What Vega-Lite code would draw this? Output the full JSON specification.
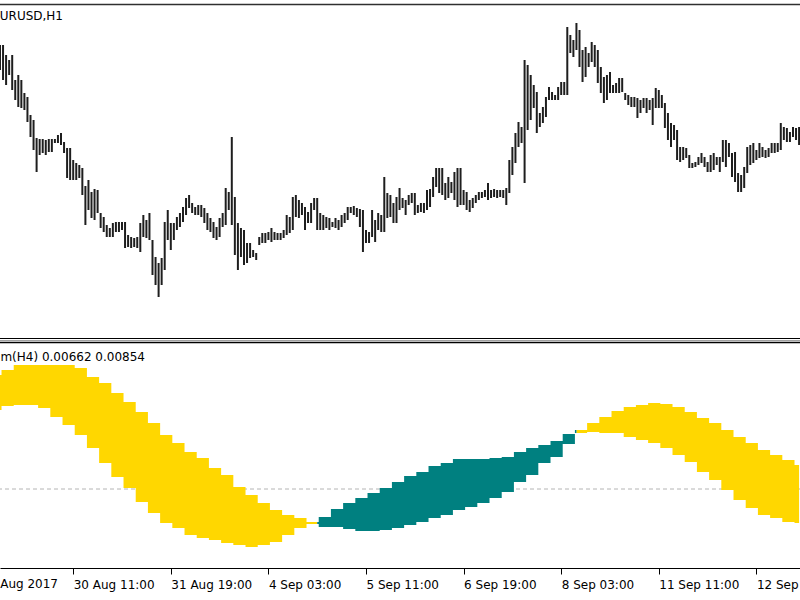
{
"$schema":"https://vega.github.io/schema/vega-lite/v6.json",
"width":800,"height":600,"padding":0,
"autosize":{"type":"none"},
"background":"white",
"config":{"view":{"stroke":null},
 "axisX":{"offset":-32,"title":null,"grid":false,
    "domainColor":"#000000","domainWidth":1,"tickColor":"#000000","tickSize":6,"tickWidth":1,
    "labelAlign":"left","labelBaseline":"alphabetic","labelPadding":14,"labelDx":1.5,
    "labelFont":"DejaVu Sans","labelFontSize":12,"labelColor":"#000000",
    "labelFlush":false,"labelOverlap":false,"labelBound":false}},
"data":{"values":[
{"i":0,"h":1.2072,"l":1.2047,"a":0.0114,"b":0.0079},
{"i":1,"h":1.2072,"l":1.2037,"a":0.0119,"b":0.0083},
{"i":2,"h":1.2062,"l":1.2032,"a":0.0119,"b":0.0083},
{"i":3,"h":1.2057,"l":1.2042,"a":0.0119,"b":0.0083},
{"i":4,"h":1.2062,"l":1.2027,"a":0.0119,"b":0.0083},
{"i":5,"h":1.2037,"l":1.2017,"a":0.0124,"b":0.0084},
{"i":6,"h":1.2042,"l":1.2010,"a":0.0124,"b":0.0084},
{"i":7,"h":1.2037,"l":1.2009,"a":0.0124,"b":0.0084},
{"i":8,"h":1.2024,"l":1.2007,"a":0.0124,"b":0.0084},
{"i":9,"h":1.2020,"l":1.1995,"a":0.0124,"b":0.0084},
{"i":10,"h":1.2002,"l":1.1980,"a":0.0124,"b":0.0084},
{"i":11,"h":1.1997,"l":1.1967,"a":0.0124,"b":0.0084},
{"i":12,"h":1.1979,"l":1.1945,"a":0.0124,"b":0.0084},
{"i":13,"h":1.1978,"l":1.1962,"a":0.0124,"b":0.0081},
{"i":14,"h":1.1978,"l":1.1964,"a":0.0124,"b":0.0081},
{"i":15,"h":1.1977,"l":1.1962,"a":0.0124,"b":0.0081},
{"i":16,"h":1.1978,"l":1.1965,"a":0.0124,"b":0.0081},
{"i":17,"h":1.1978,"l":1.1965,"a":0.0124,"b":0.0072},
{"i":18,"h":1.1978,"l":1.1974,"a":0.0124,"b":0.0072},
{"i":19,"h":1.1982,"l":1.1974,"a":0.0124,"b":0.0072},
{"i":20,"h":1.1984,"l":1.1972,"a":0.0124,"b":0.0072},
{"i":21,"h":1.1975,"l":1.1964,"a":0.0124,"b":0.0064},
{"i":22,"h":1.1969,"l":1.1939,"a":0.0124,"b":0.0064},
{"i":23,"h":1.1969,"l":1.1937,"a":0.0124,"b":0.0064},
{"i":24,"h":1.1957,"l":1.1937,"a":0.0124,"b":0.0064},
{"i":25,"h":1.1954,"l":1.1937,"a":0.0121,"b":0.0054},
{"i":26,"h":1.1952,"l":1.1939,"a":0.0121,"b":0.0054},
{"i":27,"h":1.1949,"l":1.1922,"a":0.0121,"b":0.0054},
{"i":28,"h":1.1931,"l":1.1892,"a":0.0121,"b":0.0054},
{"i":29,"h":1.1937,"l":1.1907,"a":0.0112,"b":0.0041},
{"i":30,"h":1.1925,"l":1.1899,"a":0.0112,"b":0.0041},
{"i":31,"h":1.1928,"l":1.1897,"a":0.0112,"b":0.0041},
{"i":32,"h":1.1927,"l":1.1904,"a":0.0112,"b":0.0041},
{"i":33,"h":1.1904,"l":1.1889,"a":0.0106,"b":0.0026},
{"i":34,"h":1.1900,"l":1.1885,"a":0.0106,"b":0.0026},
{"i":35,"h":1.1892,"l":1.1880,"a":0.0106,"b":0.0026},
{"i":36,"h":1.1889,"l":1.1880,"a":0.0106,"b":0.0026},
{"i":37,"h":1.1894,"l":1.1880,"a":0.0096,"b":0.0012},
{"i":38,"h":1.1895,"l":1.1885,"a":0.0096,"b":0.0012},
{"i":39,"h":1.1895,"l":1.1885,"a":0.0096,"b":0.0012},
{"i":40,"h":1.1895,"l":1.1887,"a":0.0096,"b":0.0012},
{"i":41,"h":1.1895,"l":1.1869,"a":0.0087,"b":0.0001},
{"i":42,"h":1.1882,"l":1.1870,"a":0.0087,"b":0.0001},
{"i":43,"h":1.1880,"l":1.1869,"a":0.0087,"b":0.0001},
{"i":44,"h":1.1879,"l":1.1870,"a":0.0087,"b":0.0001},
{"i":45,"h":1.1880,"l":1.1869,"a":0.0077,"b":-0.0013},
{"i":46,"h":1.1894,"l":1.1865,"a":0.0077,"b":-0.0013},
{"i":47,"h":1.1902,"l":1.1880,"a":0.0077,"b":-0.0013},
{"i":48,"h":1.1897,"l":1.1879,"a":0.0077,"b":-0.0013},
{"i":49,"h":1.1904,"l":1.1877,"a":0.0066,"b":-0.0024},
{"i":50,"h":1.1877,"l":1.1842,"a":0.0066,"b":-0.0024},
{"i":51,"h":1.1860,"l":1.1832,"a":0.0066,"b":-0.0024},
{"i":52,"h":1.1854,"l":1.1820,"a":0.0066,"b":-0.0024},
{"i":53,"h":1.1859,"l":1.1832,"a":0.0054,"b":-0.0034},
{"i":54,"h":1.1895,"l":1.1847,"a":0.0054,"b":-0.0034},
{"i":55,"h":1.1907,"l":1.1877,"a":0.0054,"b":-0.0034},
{"i":56,"h":1.1894,"l":1.1867,"a":0.0054,"b":-0.0034},
{"i":57,"h":1.1894,"l":1.1877,"a":0.0046,"b":-0.0039},
{"i":58,"h":1.1900,"l":1.1887,"a":0.0046,"b":-0.0039},
{"i":59,"h":1.1904,"l":1.1890,"a":0.0046,"b":-0.0039},
{"i":60,"h":1.1910,"l":1.1895,"a":0.0046,"b":-0.0039},
{"i":61,"h":1.1919,"l":1.1902,"a":0.0037,"b":-0.0046},
{"i":62,"h":1.1922,"l":1.1909,"a":0.0037,"b":-0.0046},
{"i":63,"h":1.1914,"l":1.1904,"a":0.0037,"b":-0.0046},
{"i":64,"h":1.1910,"l":1.1902,"a":0.0037,"b":-0.0046},
{"i":65,"h":1.1912,"l":1.1902,"a":0.0031,"b":-0.0049},
{"i":66,"h":1.1912,"l":1.1900,"a":0.0031,"b":-0.0049},
{"i":67,"h":1.1909,"l":1.1894,"a":0.0031,"b":-0.0049},
{"i":68,"h":1.1904,"l":1.1887,"a":0.0031,"b":-0.0049},
{"i":69,"h":1.1899,"l":1.1885,"a":0.0021,"b":-0.0051},
{"i":70,"h":1.1895,"l":1.1879,"a":0.0021,"b":-0.0051},
{"i":71,"h":1.1890,"l":1.1877,"a":0.0021,"b":-0.0051},
{"i":72,"h":1.1899,"l":1.1880,"a":0.0021,"b":-0.0051},
{"i":73,"h":1.1904,"l":1.1890,"a":0.0014,"b":-0.0054},
{"i":74,"h":1.1929,"l":1.1892,"a":0.0014,"b":-0.0054},
{"i":75,"h":1.1925,"l":1.1907,"a":0.0014,"b":-0.0054},
{"i":76,"h":1.1980,"l":1.1892,"a":0.0014,"b":-0.0054},
{"i":77,"h":1.1920,"l":1.1862,"a":0.0002,"b":-0.0056},
{"i":78,"h":1.1894,"l":1.1847,"a":0.0002,"b":-0.0056},
{"i":79,"h":1.1889,"l":1.1860,"a":0.0002,"b":-0.0056},
{"i":80,"h":1.1887,"l":1.1852,"a":0.0002,"b":-0.0056},
{"i":81,"h":1.1874,"l":1.1854,"a":-0.0006,"b":-0.0058},
{"i":82,"h":1.1874,"l":1.1859,"a":-0.0006,"b":-0.0058},
{"i":83,"h":1.1867,"l":1.1860,"a":-0.0006,"b":-0.0058},
{"i":84,"h":1.1864,"l":1.1857,"a":-0.0006,"b":-0.0058},
{"i":85,"h":1.1880,"l":1.1872,"a":-0.0014,"b":-0.0056},
{"i":86,"h":1.1884,"l":1.1874,"a":-0.0014,"b":-0.0056},
{"i":87,"h":1.1884,"l":1.1874,"a":-0.0014,"b":-0.0056},
{"i":88,"h":1.1885,"l":1.1877,"a":-0.0014,"b":-0.0056},
{"i":89,"h":1.1889,"l":1.1875,"a":-0.0021,"b":-0.0053},
{"i":90,"h":1.1885,"l":1.1877,"a":-0.0021,"b":-0.0053},
{"i":91,"h":1.1884,"l":1.1877,"a":-0.0021,"b":-0.0053},
{"i":92,"h":1.1884,"l":1.1877,"a":-0.0021,"b":-0.0053},
{"i":93,"h":1.1887,"l":1.1879,"a":-0.0026,"b":-0.0046},
{"i":94,"h":1.1902,"l":1.1882,"a":-0.0026,"b":-0.0046},
{"i":95,"h":1.1900,"l":1.1884,"a":-0.0026,"b":-0.0046},
{"i":96,"h":1.1920,"l":1.1887,"a":-0.0026,"b":-0.0046},
{"i":97,"h":1.1922,"l":1.1900,"a":-0.0029,"b":-0.0039},
{"i":98,"h":1.1917,"l":1.1899,"a":-0.0029,"b":-0.0039},
{"i":99,"h":1.1914,"l":1.1902,"a":-0.0029,"b":-0.0039},
{"i":100,"h":1.1910,"l":1.1887,"a":-0.0029,"b":-0.0039},
{"i":101,"h":1.1905,"l":1.1894,"a":-0.0033,"b":-0.0035},
{"i":102,"h":1.1914,"l":1.1894,"a":-0.0033,"b":-0.0035},
{"i":103,"h":1.1919,"l":1.1907,"a":-0.0033,"b":-0.0035},
{"i":104,"h":1.1919,"l":1.1887,"a":-0.0033,"b":-0.0035},
{"i":105,"h":1.1904,"l":1.1887,"a":-0.0038,"b":-0.0028},
{"i":106,"h":1.1902,"l":1.1887,"a":-0.0038,"b":-0.0028},
{"i":107,"h":1.1900,"l":1.1889,"a":-0.0038,"b":-0.0028},
{"i":108,"h":1.1899,"l":1.1887,"a":-0.0038,"b":-0.0028},
{"i":109,"h":1.1895,"l":1.1890,"a":-0.0038,"b":-0.0020},
{"i":110,"h":1.1899,"l":1.1889,"a":-0.0038,"b":-0.0020},
{"i":111,"h":1.1897,"l":1.1887,"a":-0.0038,"b":-0.0020},
{"i":112,"h":1.1902,"l":1.1890,"a":-0.0038,"b":-0.0020},
{"i":113,"h":1.1904,"l":1.1894,"a":-0.0040,"b":-0.0014},
{"i":114,"h":1.1910,"l":1.1897,"a":-0.0040,"b":-0.0014},
{"i":115,"h":1.1910,"l":1.1904,"a":-0.0040,"b":-0.0014},
{"i":116,"h":1.1911,"l":1.1902,"a":-0.0040,"b":-0.0014},
{"i":117,"h":1.1909,"l":1.1900,"a":-0.0042,"b":-0.0009},
{"i":118,"h":1.1908,"l":1.1890,"a":-0.0042,"b":-0.0009},
{"i":119,"h":1.1907,"l":1.1865,"a":-0.0042,"b":-0.0009},
{"i":120,"h":1.1887,"l":1.1874,"a":-0.0042,"b":-0.0009},
{"i":121,"h":1.1885,"l":1.1874,"a":-0.0042,"b":-0.0004},
{"i":122,"h":1.1907,"l":1.1880,"a":-0.0042,"b":-0.0004},
{"i":123,"h":1.1897,"l":1.1875,"a":-0.0042,"b":-0.0004},
{"i":124,"h":1.1904,"l":1.1887,"a":-0.0042,"b":-0.0004},
{"i":125,"h":1.1902,"l":1.1885,"a":-0.0041,"b":0.0001},
{"i":126,"h":1.1940,"l":1.1885,"a":-0.0041,"b":0.0001},
{"i":127,"h":1.1924,"l":1.1899,"a":-0.0041,"b":0.0001},
{"i":128,"h":1.1922,"l":1.1900,"a":-0.0041,"b":0.0001},
{"i":129,"h":1.1914,"l":1.1894,"a":-0.0039,"b":0.0007},
{"i":130,"h":1.1920,"l":1.1894,"a":-0.0039,"b":0.0007},
{"i":131,"h":1.1929,"l":1.1907,"a":-0.0039,"b":0.0007},
{"i":132,"h":1.1919,"l":1.1909,"a":-0.0039,"b":0.0007},
{"i":133,"h":1.1917,"l":1.1902,"a":-0.0036,"b":0.0013},
{"i":134,"h":1.1922,"l":1.1912,"a":-0.0036,"b":0.0013},
{"i":135,"h":1.1924,"l":1.1914,"a":-0.0036,"b":0.0013},
{"i":136,"h":1.1924,"l":1.1902,"a":-0.0036,"b":0.0013},
{"i":137,"h":1.1912,"l":1.1904,"a":-0.0033,"b":0.0017},
{"i":138,"h":1.1914,"l":1.1905,"a":-0.0033,"b":0.0017},
{"i":139,"h":1.1914,"l":1.1904,"a":-0.0033,"b":0.0017},
{"i":140,"h":1.1927,"l":1.1907,"a":-0.0033,"b":0.0017},
{"i":141,"h":1.1928,"l":1.1910,"a":-0.0029,"b":0.0023},
{"i":142,"h":1.1940,"l":1.1920,"a":-0.0029,"b":0.0023},
{"i":143,"h":1.1949,"l":1.1930,"a":-0.0029,"b":0.0023},
{"i":144,"h":1.1949,"l":1.1924,"a":-0.0029,"b":0.0023},
{"i":145,"h":1.1949,"l":1.1922,"a":-0.0026,"b":0.0026},
{"i":146,"h":1.1934,"l":1.1917,"a":-0.0026,"b":0.0026},
{"i":147,"h":1.1940,"l":1.1919,"a":-0.0026,"b":0.0026},
{"i":148,"h":1.1935,"l":1.1924,"a":-0.0026,"b":0.0026},
{"i":149,"h":1.1945,"l":1.1917,"a":-0.0021,"b":0.0030},
{"i":150,"h":1.1949,"l":1.1910,"a":-0.0021,"b":0.0030},
{"i":151,"h":1.1949,"l":1.1912,"a":-0.0021,"b":0.0030},
{"i":152,"h":1.1927,"l":1.1912,"a":-0.0021,"b":0.0030},
{"i":153,"h":1.1925,"l":1.1907,"a":-0.0018,"b":0.0030},
{"i":154,"h":1.1917,"l":1.1905,"a":-0.0018,"b":0.0030},
{"i":155,"h":1.1919,"l":1.1909,"a":-0.0018,"b":0.0030},
{"i":156,"h":1.1922,"l":1.1914,"a":-0.0018,"b":0.0030},
{"i":157,"h":1.1925,"l":1.1917,"a":-0.0014,"b":0.0030},
{"i":158,"h":1.1925,"l":1.1919,"a":-0.0014,"b":0.0030},
{"i":159,"h":1.1927,"l":1.1920,"a":-0.0014,"b":0.0030},
{"i":160,"h":1.1934,"l":1.1917,"a":-0.0014,"b":0.0030},
{"i":161,"h":1.1927,"l":1.1919,"a":-0.0009,"b":0.0031},
{"i":162,"h":1.1928,"l":1.1920,"a":-0.0009,"b":0.0031},
{"i":163,"h":1.1927,"l":1.1919,"a":-0.0009,"b":0.0031},
{"i":164,"h":1.1927,"l":1.1920,"a":-0.0009,"b":0.0031},
{"i":165,"h":1.1927,"l":1.1919,"a":-0.0003,"b":0.0032},
{"i":166,"h":1.1929,"l":1.1912,"a":-0.0003,"b":0.0032},
{"i":167,"h":1.1957,"l":1.1924,"a":-0.0003,"b":0.0032},
{"i":168,"h":1.1970,"l":1.1942,"a":-0.0003,"b":0.0032},
{"i":169,"h":1.1984,"l":1.1954,"a":0.0007,"b":0.0037},
{"i":170,"h":1.1995,"l":1.1970,"a":0.0007,"b":0.0037},
{"i":171,"h":1.1990,"l":1.1974,"a":0.0007,"b":0.0037},
{"i":172,"h":1.2057,"l":1.1934,"a":0.0007,"b":0.0037},
{"i":173,"h":1.2052,"l":1.1987,"a":0.0014,"b":0.0041},
{"i":174,"h":1.2042,"l":1.1997,"a":0.0014,"b":0.0041},
{"i":175,"h":1.2032,"l":1.2009,"a":0.0014,"b":0.0041},
{"i":176,"h":1.2025,"l":1.1984,"a":0.0014,"b":0.0041},
{"i":177,"h":1.2004,"l":1.1990,"a":0.0026,"b":0.0044},
{"i":178,"h":1.2010,"l":1.1994,"a":0.0026,"b":0.0044},
{"i":179,"h":1.2020,"l":1.2000,"a":0.0026,"b":0.0044},
{"i":180,"h":1.2030,"l":1.2017,"a":0.0026,"b":0.0044},
{"i":181,"h":1.2025,"l":1.2017,"a":0.0032,"b":0.0048},
{"i":182,"h":1.2022,"l":1.2017,"a":0.0032,"b":0.0048},
{"i":183,"h":1.2030,"l":1.2017,"a":0.0032,"b":0.0048},
{"i":184,"h":1.2035,"l":1.2022,"a":0.0032,"b":0.0048},
{"i":185,"h":1.2035,"l":1.2022,"a":0.0045,"b":0.0055},
{"i":186,"h":1.2090,"l":1.2022,"a":0.0045,"b":0.0055},
{"i":187,"h":1.2082,"l":1.2064,"a":0.0045,"b":0.0055},
{"i":188,"h":1.2077,"l":1.2060,"a":0.0045,"b":0.0055},
{"i":189,"h":1.2094,"l":1.2067,"a":0.0059,"b":0.0056},
{"i":190,"h":1.2087,"l":1.2050,"a":0.0059,"b":0.0056},
{"i":191,"h":1.2067,"l":1.2035,"a":0.0059,"b":0.0056},
{"i":192,"h":1.2070,"l":1.2040,"a":0.0059,"b":0.0056},
{"i":193,"h":1.2064,"l":1.2050,"a":0.0066,"b":0.0057},
{"i":194,"h":1.2075,"l":1.2055,"a":0.0066,"b":0.0057},
{"i":195,"h":1.2072,"l":1.2050,"a":0.0066,"b":0.0057},
{"i":196,"h":1.2067,"l":1.2034,"a":0.0066,"b":0.0057},
{"i":197,"h":1.2050,"l":1.2024,"a":0.0072,"b":0.0056},
{"i":198,"h":1.2040,"l":1.2014,"a":0.0072,"b":0.0056},
{"i":199,"h":1.2042,"l":1.2017,"a":0.0072,"b":0.0056},
{"i":200,"h":1.2045,"l":1.2024,"a":0.0072,"b":0.0056},
{"i":201,"h":1.2032,"l":1.2024,"a":0.0078,"b":0.0056},
{"i":202,"h":1.2034,"l":1.2024,"a":0.0078,"b":0.0056},
{"i":203,"h":1.2039,"l":1.2024,"a":0.0078,"b":0.0056},
{"i":204,"h":1.2039,"l":1.2025,"a":0.0078,"b":0.0056},
{"i":205,"h":1.2024,"l":1.2017,"a":0.0082,"b":0.0052},
{"i":206,"h":1.2022,"l":1.2012,"a":0.0082,"b":0.0052},
{"i":207,"h":1.2020,"l":1.2010,"a":0.0082,"b":0.0052},
{"i":208,"h":1.2020,"l":1.2010,"a":0.0082,"b":0.0052},
{"i":209,"h":1.2019,"l":1.1999,"a":0.0084,"b":0.0049},
{"i":210,"h":1.2017,"l":1.2004,"a":0.0084,"b":0.0049},
{"i":211,"h":1.2019,"l":1.2009,"a":0.0084,"b":0.0049},
{"i":212,"h":1.2019,"l":1.2004,"a":0.0084,"b":0.0049},
{"i":213,"h":1.2017,"l":1.2007,"a":0.0086,"b":0.0046},
{"i":214,"h":1.2019,"l":1.1992,"a":0.0086,"b":0.0046},
{"i":215,"h":1.2029,"l":1.2009,"a":0.0086,"b":0.0046},
{"i":216,"h":1.2027,"l":1.2009,"a":0.0086,"b":0.0046},
{"i":217,"h":1.2022,"l":1.2009,"a":0.0085,"b":0.0041},
{"i":218,"h":1.2014,"l":1.1989,"a":0.0085,"b":0.0041},
{"i":219,"h":1.2004,"l":1.1977,"a":0.0085,"b":0.0041},
{"i":220,"h":1.1994,"l":1.1970,"a":0.0085,"b":0.0041},
{"i":221,"h":1.1992,"l":1.1977,"a":0.0082,"b":0.0034},
{"i":222,"h":1.1987,"l":1.1957,"a":0.0082,"b":0.0034},
{"i":223,"h":1.1970,"l":1.1955,"a":0.0082,"b":0.0034},
{"i":224,"h":1.1970,"l":1.1957,"a":0.0082,"b":0.0034},
{"i":225,"h":1.1969,"l":1.1959,"a":0.0077,"b":0.0027},
{"i":226,"h":1.1962,"l":1.1949,"a":0.0077,"b":0.0027},
{"i":227,"h":1.1954,"l":1.1949,"a":0.0077,"b":0.0027},
{"i":228,"h":1.1955,"l":1.1950,"a":0.0077,"b":0.0027},
{"i":229,"h":1.1960,"l":1.1952,"a":0.0071,"b":0.0017},
{"i":230,"h":1.1964,"l":1.1954,"a":0.0071,"b":0.0017},
{"i":231,"h":1.1960,"l":1.1950,"a":0.0071,"b":0.0017},
{"i":232,"h":1.1955,"l":1.1945,"a":0.0071,"b":0.0017},
{"i":233,"h":1.1962,"l":1.1945,"a":0.0066,"b":0.0009},
{"i":234,"h":1.1964,"l":1.1947,"a":0.0066,"b":0.0009},
{"i":235,"h":1.1960,"l":1.1952,"a":0.0066,"b":0.0009},
{"i":236,"h":1.1960,"l":1.1945,"a":0.0066,"b":0.0009},
{"i":237,"h":1.1977,"l":1.1955,"a":0.0059,"b":-0.0001},
{"i":238,"h":1.1977,"l":1.1950,"a":0.0059,"b":-0.0001},
{"i":239,"h":1.1974,"l":1.1960,"a":0.0059,"b":-0.0001},
{"i":240,"h":1.1964,"l":1.1940,"a":0.0059,"b":-0.0001},
{"i":241,"h":1.1965,"l":1.1935,"a":0.0052,"b":-0.0011},
{"i":242,"h":1.1944,"l":1.1925,"a":0.0052,"b":-0.0011},
{"i":243,"h":1.1942,"l":1.1925,"a":0.0052,"b":-0.0011},
{"i":244,"h":1.1950,"l":1.1929,"a":0.0052,"b":-0.0011},
{"i":245,"h":1.1970,"l":1.1944,"a":0.0046,"b":-0.0019},
{"i":246,"h":1.1972,"l":1.1952,"a":0.0046,"b":-0.0019},
{"i":247,"h":1.1974,"l":1.1954,"a":0.0046,"b":-0.0019},
{"i":248,"h":1.1967,"l":1.1957,"a":0.0046,"b":-0.0019},
{"i":249,"h":1.1974,"l":1.1959,"a":0.0039,"b":-0.0026},
{"i":250,"h":1.1970,"l":1.1960,"a":0.0039,"b":-0.0026},
{"i":251,"h":1.1967,"l":1.1959,"a":0.0039,"b":-0.0026},
{"i":252,"h":1.1969,"l":1.1960,"a":0.0039,"b":-0.0026},
{"i":253,"h":1.1974,"l":1.1964,"a":0.0034,"b":-0.0029},
{"i":254,"h":1.1974,"l":1.1964,"a":0.0034,"b":-0.0029},
{"i":255,"h":1.1974,"l":1.1965,"a":0.0034,"b":-0.0029},
{"i":256,"h":1.1994,"l":1.1967,"a":0.0034,"b":-0.0029},
{"i":257,"h":1.1990,"l":1.1977,"a":0.0029,"b":-0.0033},
{"i":258,"h":1.1989,"l":1.1975,"a":0.0029,"b":-0.0033},
{"i":259,"h":1.1985,"l":1.1975,"a":0.0029,"b":-0.0033},
{"i":260,"h":1.1990,"l":1.1980,"a":0.0029,"b":-0.0033},
{"i":261,"h":1.1989,"l":1.1977,"a":0.0024,"b":-0.0034},
{"i":262,"h":1.1990,"l":1.1972,"a":0.0024,"b":-0.0034}
]},
"layer":[
{"mark":{"type":"rule","strokeWidth":2,"color":"#1e1e1e"},
 "encoding":{
  "x":{"field":"i","type":"quantitative","scale":{"domain":[0,262.3],"nice":false,"zero":false},
   "axis":{"values":[24,56,88,120,152,184,216,248],
    "labelExpr":"datum.value == 24 ? '30 Aug 11:00' : datum.value == 56 ? '31 Aug 19:00' : datum.value == 88 ? '4 Sep 03:00' : datum.value == 120 ? '5 Sep 11:00' : datum.value == 152 ? '6 Sep 19:00' : datum.value == 184 ? '8 Sep 03:00' : datum.value == 216 ? '11 Sep 11:00' : '12 Sep 19:00'"}},
  "y":{"field":"l","type":"quantitative","scale":{"domain":[1.1517,1.2117]},"axis":null},
  "y2":{"field":"h"}
 }},
{"data":{"values":[{}]},"mark":{"type":"rule","color":"#303030","strokeWidth":1.5},
 "encoding":{"y":{"datum":1.21125,"type":"quantitative","scale":{"domain":[1.1517,1.2117]},"axis":null}}},
{"data":{"values":[{}]},"mark":{"type":"rule","color":"#000000","strokeWidth":1},
 "encoding":{"y":{"datum":1.17785,"type":"quantitative","scale":{"domain":[1.1517,1.2117]},"axis":null}}},
{"data":{"values":[{}]},"mark":{"type":"rule","color":"#a0a0a0","strokeWidth":1},
 "encoding":{"y":{"datum":0.01485,"type":"quantitative","scale":{"domain":[-0.0111,0.0489]},"axis":null}}},
{"data":{"values":[{}]},"mark":{"type":"rule","color":"#000000","strokeWidth":1.5},
 "encoding":{"y":{"datum":0.01465,"type":"quantitative","scale":{"domain":[-0.0111,0.0489]},"axis":null}}},
{"data":{"values":[{}]},"mark":{"type":"rule","color":"#b4b4b4","strokeWidth":1,"strokeDash":[4,3]},
 "encoding":{"y":{"datum":0,"type":"quantitative","scale":{"domain":[-0.0111,0.0489]},"axis":null}}},
{"transform":[{"filter":"datum.i <= 104"}],
 "mark":{"type":"area","interpolate":"step","color":"#FFD700"},
 "encoding":{
  "x":{"field":"i","type":"quantitative","scale":{"domain":[0,262.3],"nice":false,"zero":false}},
  "y":{"field":"a","type":"quantitative","scale":{"domain":[-0.0111,0.0489]},"axis":null},
  "y2":{"field":"b"}}},
{"transform":[{"filter":"datum.i >= 189"}],
 "mark":{"type":"area","interpolate":"step","color":"#FFD700"},
 "encoding":{
  "x":{"field":"i","type":"quantitative","scale":{"domain":[0,262.3],"nice":false,"zero":false}},
  "y":{"field":"a","type":"quantitative","scale":{"domain":[-0.0111,0.0489]},"axis":null},
  "y2":{"field":"b"}}},
{"transform":[{"filter":"datum.i >= 104 && datum.i <= 189"}],
 "mark":{"type":"area","interpolate":"step","color":"#008080"},
 "encoding":{
  "x":{"field":"i","type":"quantitative","scale":{"domain":[0,262.3],"nice":false,"zero":false}},
  "y":{"field":"a","type":"quantitative","scale":{"domain":[-0.0111,0.0489]},"axis":null},
  "y2":{"field":"b"}}},
{"data":{"values":[{"label":"EURUSD,H1"}]},
 "mark":{"type":"text","align":"right","baseline":"alphabetic","font":"DejaVu Sans","fontSize":12,"color":"#000000"},
 "encoding":{
  "x":{"datum":20.66,"type":"quantitative","scale":{"domain":[0,262.3],"nice":false,"zero":false}},
  "y":{"datum":1.2097,"type":"quantitative","scale":{"domain":[1.1517,1.2117]},"axis":null},
  "text":{"field":"label"}}},
{"data":{"values":[{"label":"Momentum(H4) 0.00662 0.00854"}]},
 "mark":{"type":"text","align":"right","baseline":"alphabetic","font":"DejaVu Sans","fontSize":12,"color":"#000000"},
 "encoding":{
  "x":{"datum":47.54,"type":"quantitative","scale":{"domain":[0,262.3],"nice":false,"zero":false}},
  "y":{"datum":0.0128,"type":"quantitative","scale":{"domain":[-0.0111,0.0489]},"axis":null},
  "text":{"field":"label"}}},
{"data":{"values":[{"label":"29 Aug 2017"}]},
 "mark":{"type":"text","align":"left","baseline":"alphabetic","font":"DejaVu Sans","fontSize":12,"color":"#000000"},
 "encoding":{
  "x":{"datum":-6.2,"type":"quantitative","scale":{"domain":[0,262.3],"nice":false,"zero":false}},
  "y":{"datum":-0.0099,"type":"quantitative","scale":{"domain":[-0.0111,0.0489]},"axis":null},
  "text":{"field":"label"}}}
],
"resolve":{"scale":{"y":"independent"}}
}
